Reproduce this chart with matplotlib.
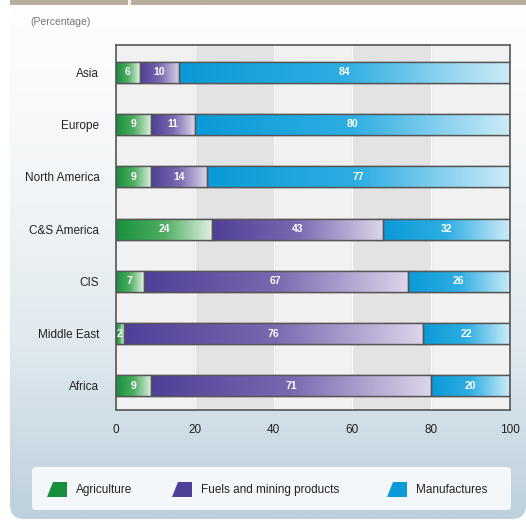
import numpy as np
import matplotlib.pyplot as plt
from matplotlib.colors import LinearSegmentedColormap
from matplotlib.patches import FancyBboxPatch, Polygon, Rectangle
from matplotlib import font_manager

# data (shares in %, C&S America)
regions = ['Asia', 'Europe', 'North America', 'C&S America', 'CIS', 'Middle East', 'Africa']
agriculture = [6, 9, 9, 24.4, 7, 2, 9]
fuels = [10, 11, 14, 43.4, 67, 76, 71]
manufactures = [84, 80, 77, 32.2, 26, 22, 20]
series_names = ['Agriculture', 'Fuels and mining products', 'Manufactures']
x_ticks = [0, 20, 40, 60, 80, 100]

names = {f.name for f in font_manager.fontManager.ttflist}
FONT = 'Liberation Sans Narrow' if 'Liberation Sans Narrow' in names else 'Liberation Sans'
plt.rcParams['font.family'] = [FONT, 'DejaVu Sans']

# dark -> pale colour per series
grads = {
    'Agriculture': ['#17903c', '#4fae63', '#e2f1e4'],
    'Fuels and mining products': ['#4f3f98', '#7a68b0', '#dcd5ea'],
    'Manufactures': ['#0a9ad8', '#2eaee2', '#cdebf8'],
}

fig = plt.figure(figsize=(5.26, 5.25), dpi=100)
W, H = 526, 525

# background panel
bg = fig.add_axes([0, 0, 1, 1], zorder=-10)
bg.set_xlim(0, W)
bg.set_ylim(H, 0)
bg.axis('off')
panel = FancyBboxPatch((10, 5), W - 10, 514, boxstyle='round,pad=0,rounding_size=14',
                       facecolor='none', edgecolor='none')
bg.add_patch(panel)
vgrad = np.linspace(0, 1, 256).reshape(-1, 1)
cm_bg = LinearSegmentedColormap.from_list('bg', ['#fefefe', '#f3f6f8', '#dfe9ef', '#bdd0dc'])
im = bg.imshow(vgrad, extent=[10, W, 519, 5], cmap=cm_bg, aspect='auto')
im.set_clip_path(panel)
bg.add_patch(Rectangle((10, 0), W - 10, 5, facecolor='#b7ae9e', edgecolor='none'))
bg.add_patch(Rectangle((128, 0), 3, 5, facecolor='#f4f2ee', edgecolor='none'))
bg.text(30, 22, '(Percentage)', fontsize=7.5, color='#777777', va='center', ha='left')

# legend box
bg.add_patch(FancyBboxPatch((32, 467), 479, 43, boxstyle='round,pad=0,rounding_size=4',
                            facecolor='#f3f7fa', edgecolor='none'))
leg_x = [47, 172, 387]
for name, lx in zip(series_names, leg_x):
    bg.add_patch(Polygon([(lx, 497), (lx + 20, 497), (lx + 20, 482), (lx + 6, 482)],
                         closed=True, facecolor=grads[name][0], edgecolor='none'))
    bg.text(lx + 29, 490, name, fontsize=8.5, color='#222222', va='center', ha='left')

ax = fig.add_axes([116 / W, 1 - 410 / H, 394 / W, 365 / H])
ax.set_facecolor('#f1f1f1')
for a, b in [(20, 40), (60, 80)]:
    ax.axvspan(a, b, color='#e3e3e3', zorder=0)
for t in x_ticks[1:-1]:
    ax.axvline(t, color='#fafafa', lw=0.8, zorder=0.5)

y = np.arange(len(regions))
gx = np.linspace(0, 1, 256).reshape(1, -1)
left = np.zeros(len(regions))
for name, vals in zip(series_names, [agriculture, fuels, manufactures]):
    cmap = LinearSegmentedColormap.from_list(name, grads[name])
    bars = ax.barh(y, vals, left=left, height=0.4, color=grads[name][1],
                   edgecolor='#555555', linewidth=1.0, zorder=2)
    for patch, v, l, yy in zip(bars, vals, left, y):
        bb = patch.get_bbox()
        g = ax.imshow(gx, extent=[bb.x0, bb.x1, bb.y0, bb.y1], cmap=cmap,
                      aspect='auto', zorder=2.5, interpolation='bicubic')
        g.set_clip_path(patch)
        edge = Rectangle((bb.x0, bb.y0), bb.width, bb.height, facecolor='none',
                         edgecolor='#555555', linewidth=1.0, zorder=3)
        ax.add_patch(edge)
        ax.text(l + v / 2, yy, f'{v:.0f}', color='white', fontsize=7.5, fontweight='bold',
                ha='center', va='center', zorder=4)
    left = left + np.array(vals)

ax.set_xlim(0, 100)
ax.set_ylim(6.46, -0.52)
ax.set_xticks(x_ticks)
ax.set_yticks(y)
ax.set_yticklabels(regions)
ax.tick_params(length=0, labelsize=8.5, colors='#222222', pad=10)
ax.tick_params(axis='y', pad=12)
for s in ax.spines.values():
    s.set_color('#555555')
    s.set_linewidth(1.2)

fig.savefig('out.png', dpi=100)
